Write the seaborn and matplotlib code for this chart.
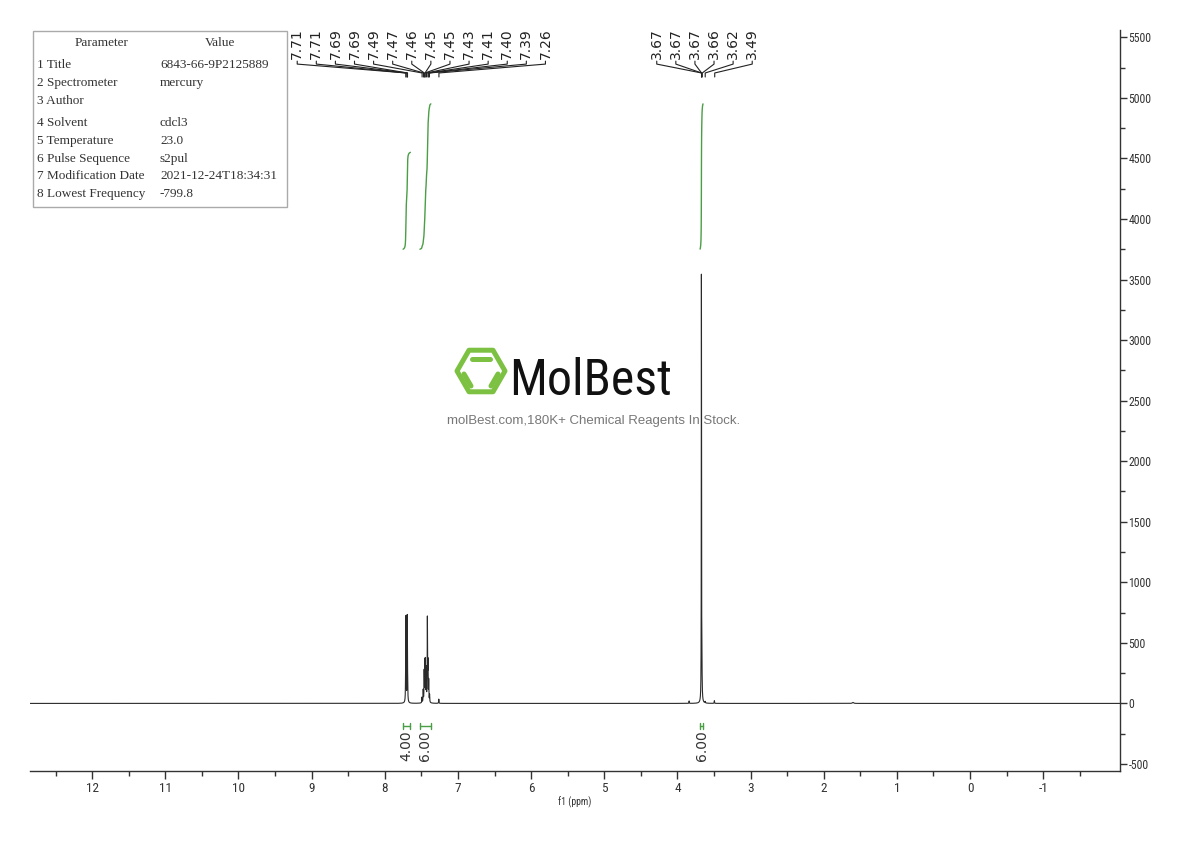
import numpy as np
import pandas as pd
import matplotlib
matplotlib.use("Agg")
import matplotlib.pyplot as plt
import seaborn as sns
from matplotlib import font_manager, transforms
from matplotlib.patches import Rectangle, RegularPolygon

# peak list (ppm, height, fwhm) used to build the 1H spectrum
peak_ppm = [7.716, 7.711, 7.693, 7.688,
            7.492, 7.475, 7.462, 7.452, 7.446, 7.434, 7.418, 7.410, 7.400, 7.388,
            7.262, 3.840, 3.672, 3.666, 3.620, 3.495, 1.600]
peak_height = [110, 690, 700, 110,
               45, 100, 250, 300, 310, 270, 680, 300, 170, 60,
               35, 20, 3480, 300, 12, 22, 8]
peak_fwhm = [0.005] * 15 + [0.005, 0.0035, 0.007, 0.005, 0.005, 0.02]

# peak picking labels
arom_labels = [7.71, 7.71, 7.69, 7.69, 7.49, 7.47, 7.46, 7.45, 7.45, 7.43, 7.41, 7.40, 7.39, 7.26]
ome_labels = [3.67, 3.67, 3.67, 3.66, 3.62, 3.49]

# integration regions
int_ranges = [(7.75, 7.65), (7.52, 7.37), (3.69, 3.65)]
int_values = [4.00, 6.00, 6.00]

# acquisition parameter table
param_names = ["1 Title", "2 Spectrometer", "3 Author", "4 Solvent", "5 Temperature",
               "6 Pulse Sequence", "7 Modification Date", "8 Lowest Frequency"]
param_values = ["6843-66-9P2125889", "mercury", "", "cdcl3", "23.0",
                "s2pul", "2021-12-24T18:34:31", "-799.8"]

x_ticks = list(range(-1, 13))
y_ticks = list(range(-500, 5501, 500))

W, H = 1190, 841


def fx(px):
    return px / W


def fy(py):
    return 1 - py / H


sns.set_theme(style="white")
plt.rcParams["font.family"] = ["DejaVu Sans"]

# look for a condensed face for the tick labels and logo
narrow, narrow_stretch = "DejaVu Sans", "normal"
cands = []
for f in font_manager.fontManager.ttflist:
    st = f.stretch
    if isinstance(st, str):
        st = {"ultra-condensed": 100, "extra-condensed": 200, "condensed": 300,
              "semi-condensed": 400}.get(st, 500)
    if st < 500 or "Narrow" in f.name or "Condensed" in f.name:
        cands.append((f.name, f.stretch))
for pref in ["Liberation Sans Narrow", "Roboto Condensed", "DejaVu Sans", "Open Sans", "Noto Sans"]:
    hit = [c for c in cands if c[0] == pref]
    if hit:
        narrow, narrow_stretch = hit[0]
        break
else:
    if cands:
        narrow, narrow_stretch = cands[0]
have_narrow = bool(cands)

ppm = np.linspace(12.85, -2.05, 30001)
spec = np.zeros_like(ppm)
for c, h, w in zip(peak_ppm, peak_height, peak_fwhm):
    spec += h / (1 + ((ppm - c) / (w / 2)) ** 2)
df = pd.DataFrame({"ppm": ppm, "intensity": spec})

fig = plt.figure(figsize=(11.9, 8.41), dpi=100)
ax = fig.add_axes([fx(30), fy(771), 1090 / W, 741 / H])

sns.lineplot(data=df, x="ppm", y="intensity", ax=ax, color="#2a2a2a",
             linewidth=0.8, estimator=None, sort=False)

ax.set_xlim(12.85, -2.05)
ax.set_ylim(-558, 5560)

# spines / ticks
for s in ["left", "top"]:
    ax.spines[s].set_visible(False)
for s in ["bottom", "right"]:
    ax.spines[s].set_color("#333333")
    ax.spines[s].set_linewidth(1.0)
ax.yaxis.tick_right()
ax.set_xticks(x_ticks)
ax.set_xticks(np.arange(-1.5, 13, 1.0), minor=True)
ax.set_yticks(y_ticks)
ax.set_yticks(np.arange(-250, 5500, 500), minor=True)
tick_kw = dict(family=narrow, stretch=narrow_stretch, color="#333333")
ax.set_xticklabels([str(t) for t in x_ticks], fontsize=9.5 if have_narrow else 8.5, **tick_kw)
ax.set_yticklabels([str(t) for t in y_ticks], fontsize=8.5 if have_narrow else 7.5, **tick_kw)
ax.tick_params(axis="x", which="major", direction="out", length=6, width=1, color="#333333", pad=2, bottom=True)
ax.tick_params(axis="x", which="minor", direction="out", length=3.5, width=1, color="#333333", bottom=True)
ax.tick_params(axis="y", which="major", direction="out", length=5, width=1, color="#333333", pad=1, right=True, left=False)
ax.tick_params(axis="y", which="minor", direction="out", length=3.5, width=1, color="#333333", right=True, left=False)
ax.set_xlabel("f1 (ppm)", fontsize=7, labelpad=1, **tick_kw)
ax.set_ylabel("")

# integral curves, brackets and values
green = "#4a9e45"
per_h = 200
base = 3750
for (a, b), n in zip(int_ranges, int_values):
    m = (ppm <= a) & (ppm >= b)
    cum = np.cumsum(spec[m])
    cum = cum / cum[-1]
    ax.plot(ppm[m], base + cum * n * per_h, color=green, linewidth=1.0)
    ax.plot([a, b], [-190, -190], color=green, linewidth=1.0)
    ax.plot([a, a], [-215, -165], color=green, linewidth=1.0)
    ax.plot([b, b], [-215, -165], color=green, linewidth=1.0)
    ax.text((a + b) / 2, -225, f"{n:.2f}", rotation=90, ha="center", va="top",
            fontsize=10, color="#333333")

# peak picking labels with fan connectors
trans = transforms.blended_transform_factory(ax.transData, ax.transAxes)
spacing = 0.261
for labels in [arom_labels, ome_labels]:
    n = len(labels)
    center = np.mean(labels)
    for i, p in enumerate(labels):
        x = center + ((n - 1) / 2 - i) * spacing
        ax.text(x, 0.9605, f"{p:.2f}", rotation=90, ha="center", va="bottom",
                fontsize=10, color="#222222", transform=trans, clip_on=False)
        ax.plot([x, x, p, p], [0.958, 0.954, 0.942, 0.9366], color="#222222",
                linewidth=0.8, transform=trans, clip_on=False)

# parameter table
fig.patches.append(Rectangle((fx(33), fy(207)), (287 - 33) / W, (207 - 31) / H,
                             transform=fig.transFigure, fill=False,
                             edgecolor="#aaaaaa", linewidth=1.0))
tab_kw = dict(family=["Liberation Serif", "DejaVu Serif"], fontsize=9.5, color="#333333", va="center")
fig.text(fx(102), fy(43), "Parameter", ha="center", **tab_kw)
fig.text(fx(220), fy(43), "Value", ha="center", **tab_kw)
row_y = [65, 83, 101, 123, 141, 159, 176, 194]
for yy, name, val in zip(row_y, param_names, param_values):
    fig.text(fx(37), fy(yy), name, ha="left", **tab_kw)
    fig.text(fx(160), fy(yy), val, ha="left", **tab_kw)

# watermark logo
lax = fig.add_axes([fx(453), fy(397), 56 / W, 52 / H])
lax.set_xlim(0, 56)
lax.set_ylim(0, 52)
lax.axis("off")
logo_green = "#7cc142"
lax.add_patch(RegularPolygon((28, 26), 6, radius=24, orientation=np.pi / 6,
                             fill=False, edgecolor=logo_green, linewidth=3.6, joinstyle="round"))
for (x0, y0), (x1, y1) in [((19, 38), (37, 38)), ((11, 23), (18, 11)), ((45, 23), (38, 11))]:
    lax.plot([x0, x1], [y0, y1], color=logo_green, linewidth=3.6, solid_capstyle="round")
fig.text(fx(509), fy(395), "MolBest", ha="left", va="baseline", family=narrow,
         stretch=narrow_stretch, weight="bold" if not have_narrow else "normal",
         fontsize=36 if have_narrow else 28, color="#111111")
fig.text(fx(594), fy(421), "molBest.com,180K+ Chemical Reagents In Stock.", ha="center",
         va="center", fontsize=9.5, color="#777777", family=["Liberation Sans", "DejaVu Sans"])

fig.savefig("out.png", dpi=100)
